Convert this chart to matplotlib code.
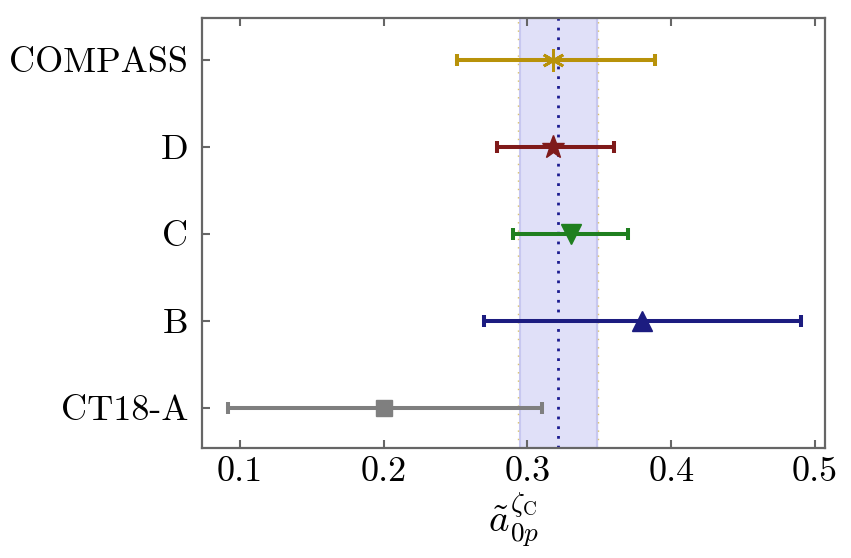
import matplotlib
matplotlib.use("Agg")
import matplotlib.pyplot as plt

plt.rcParams['font.family'] = 'serif'
plt.rcParams['font.serif'] = ['cmr10', 'DejaVu Serif']
plt.rcParams['mathtext.fontset'] = 'cm'
plt.rcParams['axes.formatter.use_mathtext'] = True

labels = ["CT18-A", "B", "C", "D", "COMPASS"]
centers = [0.20, 0.38, 0.33, 0.318, 0.318]
lows = [0.092, 0.27, 0.29, 0.279, 0.251]
highs = [0.31, 0.49, 0.37, 0.36, 0.389]
colors = ["#7f7f7f", "#1c1c80", "#1f7f1f", "#7f1a1a", "#b8920a"]
markers = ["s", "^", "v", "*", (6, 2, 0)]
msizes = [12, 15, 15, 17, 16]

band_center = 0.3215
band_low = 0.2948
band_high = 0.3483
xticks = [0.1, 0.2, 0.3, 0.4, 0.5]

fig = plt.figure(figsize=(8.51, 5.58), dpi=100)
ax = fig.add_axes([202/851, 110/558, 623/851, 430/558])

ax.axvspan(band_low, band_high, color="#e0e0f8", zorder=0)
ax.axvline(band_low, color="#c8c8f0", lw=1.5, zorder=0.5)
ax.axvline(band_high, color="#c8c8f0", lw=1.5, zorder=0.5)
ax.axvline(band_low - 0.0015, color="#d8c070", lw=1, ls=(0, (1, 5)), zorder=0.6)
ax.axvline(band_high + 0.0005, color="#d8c070", lw=1, ls=(0, (1, 5)), zorder=0.6)
ax.axvline(band_center, color="#1c1c90", lw=2, ls=(0, (1, 2.5)), zorder=1)

for i, (lab, c, lo, hi, col, mk, ms) in enumerate(zip(labels, centers, lows, highs, colors, markers, msizes)):
    ax.errorbar([c], [i], xerr=[[c - lo], [hi - c]], fmt='none', ecolor=col,
                elinewidth=2.9, capsize=4.5, capthick=2.9, zorder=2)
    if mk == (6, 2, 0):
        ax.plot([c], [i], marker=mk, color=col, ms=ms, mew=2.0, ls='none', zorder=3)
    else:
        ax.plot([c], [i], marker=mk, color=col, ms=ms, ls='none', zorder=3)

ax.set_xlim(0.0736, 0.507)
ax.set_ylim(-0.46, 4.48)
ax.set_xticks(xticks)
ax.set_xticklabels([f"{v:.1f}" for v in xticks])
ax.set_yticks(range(len(labels)))
ax.set_yticklabels(labels)
ax.tick_params(axis='both', direction='in', length=6, width=1.5, color='#666666',
               labelsize=26, top=True, right=False)
ax.tick_params(axis='x', pad=6)
ax.tick_params(axis='y', pad=10)
for s in ax.spines.values():
    s.set_color('#666666')
    s.set_linewidth(1.6)
ax.set_xlabel(r"$\tilde{a}_{0p}^{\zeta_{\rm C}}$", fontsize=28, labelpad=2)

fig.savefig("out.png", dpi=100)
